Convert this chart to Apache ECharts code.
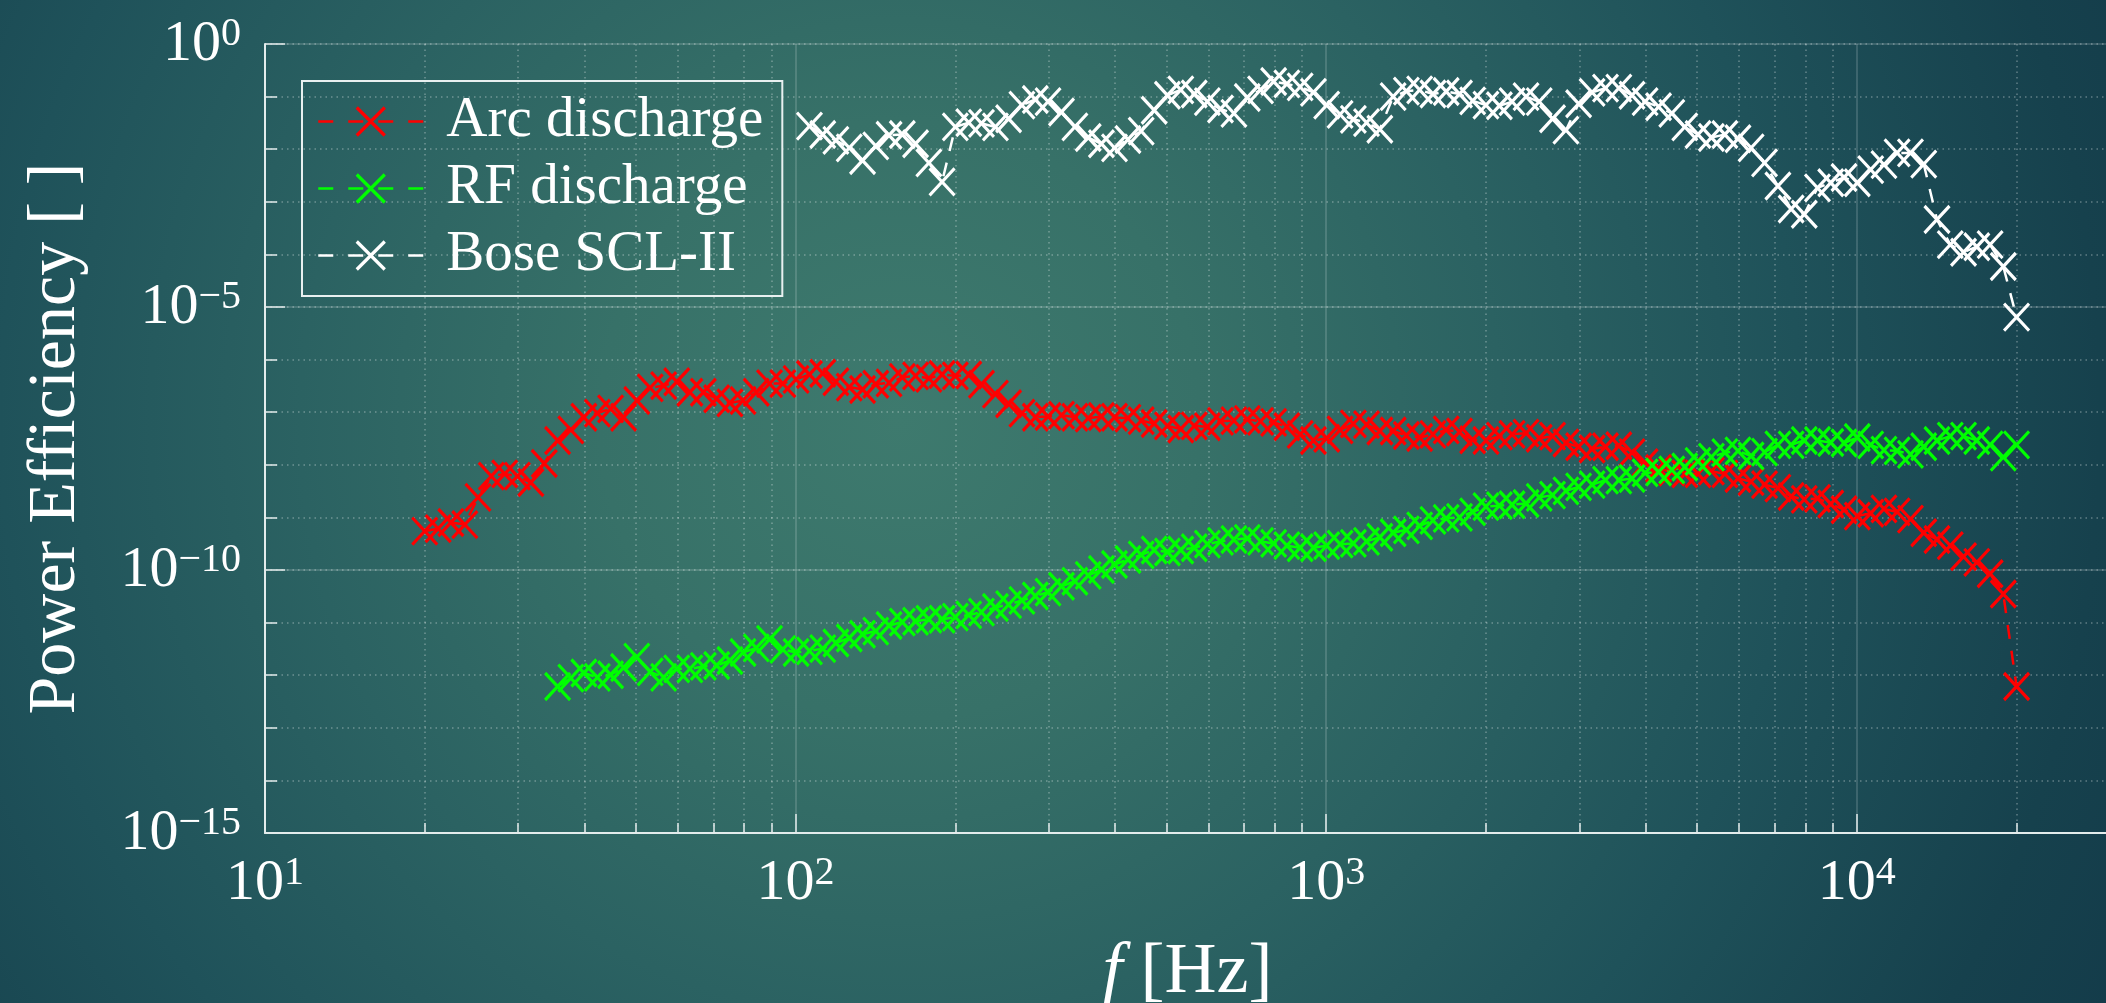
<!DOCTYPE html>
<html>
<head>
<meta charset="utf-8">
<title>Power efficiency vs frequency</title>
<script src="https://cdn.jsdelivr.net/npm/echarts@6/dist/echarts.min.js"></script>
<style>
  html, body { margin: 0; padding: 0; }
  #chart {
    width: 2106px;
    height: 1003px;
    background: radial-gradient(circle at 900px 420px,
      #3e7a6e 0px, #377168 300px, #2b6262 600px, #1f525a 900px, #16414d 1200px, #123848 1450px);
  }
</style>
</head>
<body>
<div id="chart"></div>
<script>
// frequency grid (Hz), 40 points per decade from 20 Hz to 20 kHz
const freqHz = [
  20, 21.2, 22.4, 23.8, 25.2, 26.7, 28.3, 29.9, 31.7, 33.6,
  35.6, 37.7, 39.9, 42.3, 44.8, 47.4, 50.2, 53.2, 56.4, 59.7,
  63.2, 67.0, 71.0, 75.2, 79.6, 84.3, 89.3, 94.6, 100.2, 106.2,
  112.5, 119.1, 126.2, 133.7, 141.6, 150.0, 158.9, 168.3, 178.3, 188.8,
  200, 212, 224, 238, 252, 267, 283, 299, 317, 336,
  356, 377, 399, 423, 448, 474, 502, 532, 564, 597,
  632, 670, 710, 752, 796, 843, 893, 946, 1002, 1062,
  1125, 1191, 1262, 1337, 1416, 1500, 1589, 1683, 1783, 1888,
  2000, 2120, 2240, 2380, 2520, 2670, 2830, 2990, 3170, 3360,
  3560, 3770, 3990, 4230, 4480, 4740, 5020, 5320, 5640, 5970,
  6320, 6700, 7100, 7520, 7960, 8430, 8930, 9460, 10020, 10620,
  11250, 11910, 12620, 13370, 14160, 15000, 15890, 16830, 17830, 18880,
  20000
];

// Arc discharge, from freqHz[0]
const arcEff = [
  5.5e-10, 6.1e-10, 8.0e-10, 7.3e-10, 2.4e-9, 6.1e-9, 6.7e-9, 6.1e-9, 4.6e-9, 1.06e-8,
  2.9e-8, 4.6e-8, 8.0e-8, 9.6e-8, 1.16e-7, 8.0e-8, 1.67e-7, 2.9e-7, 3.2e-7, 3.8e-7,
  2.4e-7, 2.4e-7, 1.8e-7, 1.5e-7, 1.67e-7, 2.4e-7, 3.5e-7, 3.5e-7, 4.2e-7, 5.2e-7,
  5.5e-7, 3.8e-7, 3.0e-7, 2.7e-7, 3.4e-7, 3.6e-7, 4.6e-7, 4.9e-7, 4.4e-7, 5.2e-7,
  4.9e-7, 5.1e-7, 3.4e-7, 2.2e-7, 1.45e-7, 9.6e-8, 8.0e-8, 8.3e-8, 8.8e-8, 8.0e-8,
  7.7e-8, 8.3e-8, 8.0e-8, 7.7e-8, 6.9e-8, 6.1e-8, 5.5e-8, 4.8e-8, 5.5e-8, 5.3e-8,
  6.7e-8, 6.9e-8, 7.3e-8, 6.7e-8, 6.4e-8, 5.3e-8, 3.8e-8, 2.9e-8, 3.2e-8, 4.6e-8,
  6.0e-8, 5.8e-8, 4.4e-8, 4.4e-8, 3.6e-8, 3.3e-8, 3.8e-8, 4.6e-8, 4.2e-8, 3.0e-8,
  2.9e-8, 3.5e-8, 3.8e-8, 4.0e-8, 3.2e-8, 3.5e-8, 2.6e-8, 2.2e-8, 2.0e-8, 2.2e-8,
  2.3e-8, 1.7e-8, 1.1e-8, 8.5e-9, 7.3e-9, 6.7e-9, 6.7e-9, 7.6e-9, 6.7e-9, 5.5e-9,
  4.8e-9, 4.2e-9, 3.6e-9, 2.5e-9, 2.2e-9, 2.3e-9, 1.8e-9, 1.4e-9, 1.06e-9, 1.2e-9,
  1.45e-9, 1.27e-9, 9.3e-10, 5.1e-10, 3.8e-10, 2.9e-10, 1.8e-10, 1.4e-10, 8.5e-11, 3.5e-11,
  6.1e-13
];

// RF discharge, from freqHz[10]
const rfStart = 10;
const rfEff = [
  6.1e-13, 8.8e-13, 1.1e-12, 9.1e-13, 1.02e-12, 1.4e-12, 2.2e-12, 1.16e-12, 9.1e-13, 1.32e-12,
  1.32e-12, 1.47e-12, 1.53e-12, 1.9e-12, 2.7e-12, 3.3e-12, 4.8e-12, 3.1e-12, 2.7e-12, 2.9e-12,
  3.2e-12, 4.1e-12, 5.1e-12, 6.0e-12, 6.9e-12, 8.8e-12, 1.02e-11, 1.06e-11, 1.16e-11, 1.16e-11,
  1.27e-11, 1.4e-11, 1.58e-11, 1.94e-11, 2.2e-11, 2.65e-11, 3.2e-11, 3.8e-11, 4.9e-11, 6.1e-11,
  7.9e-11, 1.02e-10, 1.27e-10, 1.58e-10, 1.94e-10, 2.4e-10, 2.2e-10, 2.4e-10, 2.65e-10, 3.1e-10,
  3.5e-10, 3.8e-10, 4.0e-10, 3.5e-10, 3.2e-10, 2.9e-10, 2.65e-10, 2.65e-10, 2.9e-10, 3.1e-10,
  3.2e-10, 3.5e-10, 4.2e-10, 5.1e-10, 5.8e-10, 6.9e-10, 8.8e-10, 9.6e-10, 1.0e-9, 1.27e-9,
  1.6e-9, 1.67e-9, 1.74e-9, 1.84e-9, 2.4e-9, 2.65e-9, 3.2e-9, 3.8e-9, 4.2e-9, 5.1e-9,
  5.1e-9, 5.5e-9, 7.0e-9, 7.3e-9, 8.0e-9, 9.1e-9, 1.16e-8, 1.4e-8, 1.7e-8, 1.84e-8,
  1.47e-8, 1.74e-8, 2.4e-8, 2.4e-8, 2.9e-8, 2.9e-8, 2.65e-8, 2.6e-8, 3.3e-8, 2.4e-8,
  1.9e-8, 1.84e-8, 1.58e-8, 2.2e-8, 2.9e-8, 3.5e-8, 3.5e-8, 2.9e-8, 2.4e-8, 1.4e-8,
  2.4e-8
];

// Bose SCL-II, from freqHz[29]
const boseStart = 29;
const boseEff = [
  2.75e-2,
  1.9e-2, 1.47e-2, 1.06e-2, 6.1e-3, 1.16e-2, 1.84e-2, 1.9e-2, 1.27e-2, 5.5e-3, 2.4e-3,
  2.65e-2, 3.2e-2, 3.1e-2, 2.65e-2, 3.8e-2, 6.9e-2, 8.8e-2, 8.0e-2, 5.1e-2, 2.65e-2,
  1.67e-2, 1.27e-2, 1.06e-2, 1.53e-2, 2.2e-2, 5.5e-2, 1.06e-1, 1.34e-1, 1.12e-1, 8.0e-2,
  5.8e-2, 4.8e-2, 9.6e-2, 1.34e-1, 1.94e-1, 1.74e-1, 1.53e-1, 1.2e-1, 6.9e-2, 4.6e-2,
  3.7e-2, 3.2e-2, 2.4e-2, 1.0e-1, 1.27e-1, 1.34e-1, 1.12e-1, 1.25e-1, 1.12e-1, 8.3e-2,
  6.9e-2, 6.7e-2, 8.0e-2, 1.0e-1, 8.0e-2, 3.8e-2, 2.3e-2, 7.3e-2, 1.2e-1, 1.45e-1,
  1.45e-1, 1.06e-1, 8.0e-2, 6.4e-2, 4.8e-2, 2.65e-2, 1.9e-2, 1.67e-2, 1.9e-2, 1.58e-2,
  1.06e-2, 5.5e-3, 2.0e-3, 7.3e-4, 5.8e-4, 1.84e-3, 2.3e-3, 2.9e-3, 2.3e-3, 4.1e-3,
  5.1e-3, 8.5e-3, 8.5e-3, 5.2e-3, 4.6e-4, 1.53e-4, 1.1e-4, 1.4e-4, 1.53e-4, 5.9e-5,
  6.4e-6
];

// tick positions
const xDecades = [10, 100, 1000, 10000];
const xMinor = [
  20, 30, 40, 50, 60, 70, 80, 90,
  200, 300, 400, 500, 600, 700, 800, 900,
  2000, 3000, 4000, 5000, 6000, 7000, 8000, 9000,
  20000, 30000
];
const yDecades = [1e-15, 1e-14, 1e-13, 1e-12, 1e-11, 1e-10, 1e-9, 1e-8, 1e-7, 1e-6, 1e-5, 1e-4, 1e-3, 1e-2, 1e-1, 1];
const yLabelled = [1e-15, 1e-10, 1e-5, 1];

const SERIF = 'Liberation Serif';
const INK = '#ffffff';
const AXIS = '#e3ecec';
const MAJOR_GRID = 'rgba(255,255,255,0.2)';
const MINOR_GRID = 'rgba(255,255,255,0.32)';
const X_MARK = 'path://M0,0L10,11M10,0L0,11';

const chart = echarts.init(document.getElementById('chart'), null, { renderer: 'canvas' });

function pairs(vals, start) {
  return vals.map((v, k) => [freqHz[start + k], v]);
}

// 10^k labels
function powLabel(v) {
  const e = Math.round(Math.log10(v));
  if (Math.abs(v / Math.pow(10, e) - 1) > 1e-6) return '';
  return '{b|10}{s|' + (e < 0 ? '\u2212' + (-e) : e) + '}';
}

const labelRich = {
  b: { fontFamily: SERIF, fontSize: 58, color: INK, lineHeight: 60, verticalAlign: 'bottom' },
  s: { fontFamily: SERIF, fontSize: 40, color: INK, lineHeight: 30, verticalAlign: 'top' }
};

function markSeries(name, color, data) {
  return {
    name: name,
    type: 'line',
    data: data,
    symbol: X_MARK,
    symbolSize: [25, 27],
    itemStyle: { color: color, borderColor: color, borderWidth: 3.2 },
    lineStyle: { color: color, width: 2.5, type: [14, 12] },
    emphasis: { disabled: true }
  };
}

const logX = { type: 'log', logBase: 10, min: 10, max: 30000, position: 'bottom' };
const logY = { type: 'log', logBase: 10, min: 1e-15, max: 1, position: 'left' };

chart.setOption({
  animation: false,
  grid: { left: 265, right: -4, top: 44, bottom: 170, outerBoundsMode: 'none' },
  legend: {
    orient: 'vertical',
    left: 302,
    top: 81,
    padding: [12, 19, 12, 15],
    itemWidth: 105,
    itemHeight: 35,
    itemGap: 10,
    borderColor: '#e8f0f0',
    borderWidth: 2,
    selectedMode: false,
    textStyle: { fontFamily: SERIF, fontSize: 57, color: INK, lineHeight: 57, padding: [0, 0, 0, 18] },
    lineStyle: { width: 2.5, type: [15, 15] },
    itemStyle: { borderWidth: 3.2 }
  },
  xAxis: [
    Object.assign({}, logX, {
      name: '{i|f} [Hz]',
      nameLocation: 'middle',
      nameGap: 104,
      nameTextStyle: {
        fontFamily: SERIF, fontSize: 72, color: INK,
        rich: { i: { fontFamily: SERIF, fontSize: 72, color: INK, fontStyle: 'italic' } }
      },
      axisLine: { lineStyle: { color: AXIS, width: 2 } },
      axisTick: { inside: true, length: 19, customValues: xDecades, lineStyle: { color: AXIS, width: 1.5 } },
      axisLabel: { customValues: xDecades, formatter: powLabel, rich: labelRich, margin: 20 },
      splitLine: { show: true, lineStyle: { color: MAJOR_GRID, width: 1.5 } }
    }),
    Object.assign({}, logX, {
      axisLine: { show: false },
      axisTick: { inside: true, length: 10, customValues: xMinor, lineStyle: { color: AXIS, width: 1.5 } },
      axisLabel: { show: false },
      splitLine: { show: true, lineStyle: { color: MINOR_GRID, width: 1.5, type: [1.5, 4] } }
    })
  ],
  yAxis: [
    Object.assign({}, logY, {
      axisLine: { show: true, lineStyle: { color: AXIS, width: 2 } },
      axisTick: { inside: true, length: 12, customValues: yDecades, lineStyle: { color: AXIS, width: 1.5 } },
      axisLabel: { show: false },
      splitLine: { show: true, lineStyle: { color: MINOR_GRID, width: 1.5, type: [1.5, 4] } }
    }),
    Object.assign({}, logY, {
      name: 'Power Efficiency [ ]',
      nameLocation: 'middle',
      nameRotate: 90,
      nameGap: 175,
      nameTextStyle: { fontFamily: SERIF, fontSize: 68, color: INK },
      axisLine: { show: false },
      axisTick: { inside: true, length: 20, customValues: yLabelled, lineStyle: { color: AXIS, width: 1.5 } },
      axisLabel: { customValues: yLabelled, formatter: powLabel, rich: labelRich, margin: 24 },
      splitLine: { show: true, lineStyle: { color: MAJOR_GRID, width: 1.5 } }
    })
  ],
  series: [
    markSeries('Arc discharge', '#ff0000', pairs(arcEff, 0)),
    markSeries('RF discharge', '#00ff00', pairs(rfEff, rfStart)),
    markSeries('Bose SCL-II', '#ffffff', pairs(boseEff, boseStart))
  ]
});
</script>
</body>
</html>
